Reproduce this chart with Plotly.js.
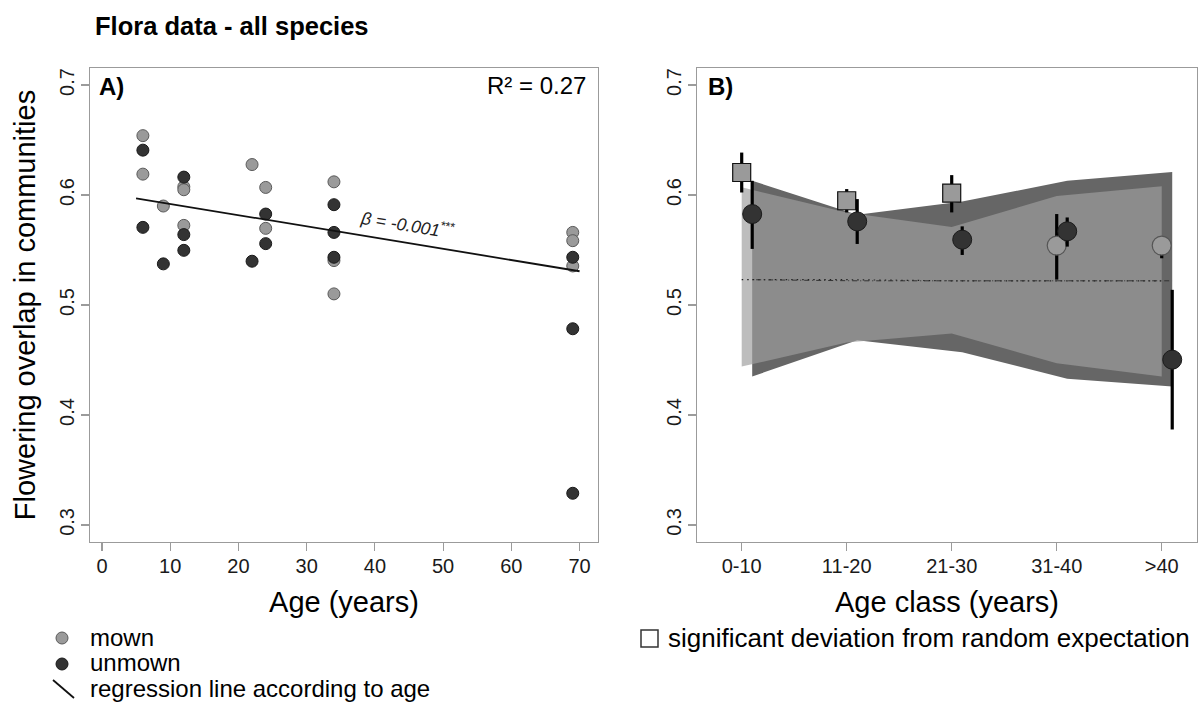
<!DOCTYPE html>
<html><head><meta charset="utf-8">
<script src="https://cdn.plot.ly/plotly-3.0.1.min.js"></script>
<style>html,body{margin:0;padding:0;background:#fff}#chart{width:1198px;height:702px}</style>
</head><body><div id="chart"></div>
<script>
// ---------- Panel A data ----------
const mownAge = [6, 6, 9, 12, 12, 12, 22, 24, 24, 34, 34, 34, 69, 69, 69];
const mownOverlap = [0.654, 0.619, 0.590, 0.6075, 0.6048, 0.5724, 0.6277, 0.6069, 0.5697, 0.612, 0.5404, 0.5101, 0.566, 0.5585, 0.5355];
const unmownAge = [6, 6, 9, 12, 12, 12, 22, 24, 24, 34, 34, 34, 69, 69, 69];
const unmownOverlap = [0.6408, 0.5706, 0.5374, 0.6163, 0.564, 0.5497, 0.5398, 0.5827, 0.5558, 0.5912, 0.566, 0.5434, 0.5434, 0.4784, 0.3288];
const regressionAge = [5, 70];
const regressionFit = [0.5970, 0.5307];

// ---------- Panel B data ----------
const ageClasses = ['0-10', '11-20', '21-30', '31-40', '>40'];
const mownNullUpper = [0.607, 0.584, 0.571, 0.599, 0.608];
const mownNullLower = [0.444, 0.466, 0.474, 0.447, 0.435];
const unmownNullUpper = [0.613, 0.582, 0.594, 0.613, 0.621];
const unmownNullLower = [0.435, 0.468, 0.457, 0.433, 0.426];
const mownExpected = [0.523, 0.523, 0.522, 0.522, 0.522];
const unmownExpected = [0.523, 0.522, 0.522, 0.522, 0.522];
const mownMean = [0.6205, 0.5948, 0.6018, 0.554, 0.554];
const mownUpper = [0.6386, 0.6054, 0.6181, 0.5827, 0.562];
const mownLower = [0.6023, 0.5842, 0.5842, 0.5231, 0.5425];
const mownSignificant = [true, true, true, false, false];
const unmownMean = [0.5827, 0.576, 0.5594, 0.567, 0.4503];
const unmownUpper = [0.6129, 0.5963, 0.5715, 0.5796, 0.5138];
const unmownLower = [0.551, 0.5555, 0.5455, 0.5531, 0.3868];
const unmownSignificant = [false, false, false, false, false];

// ---------- layout helpers ----------
const W = 1198, H = 702, ML = 90, MR = 1, MT = 68, MB = 160;
const PW = W - ML - MR, PH = H - MT - MB;
const px = x => (x - ML) / PW;
const py = y => (H - MB - y) / PH;
const FONT = 'Liberation Sans, Arial, sans-serif';
const GRAY = '#9a9a9a', DARK = '#333333';
const BOX = '#9b9b9b';

const posM = ageClasses.map((c, i) => i + 1);
const posU = ageClasses.map((c, i) => i + 1.1);
const polyX = p => p.concat(p.slice().reverse());
const polyY = (up, lo) => up.concat(lo.slice().reverse());

const traces = [
  // Panel A
  {type: 'scatter', mode: 'markers', x: mownAge, y: mownOverlap, xaxis: 'x', yaxis: 'y',
   marker: {size: 12, opacity: 1, color: GRAY, line: {color: '#5a5a5a', width: 1}}, name: 'mown'},
  {type: 'scatter', mode: 'markers', x: unmownAge, y: unmownOverlap, xaxis: 'x', yaxis: 'y',
   marker: {size: 12, opacity: 1, color: DARK, line: {color: '#1a1a1a', width: 1}}, name: 'unmown'},
  {type: 'scatter', mode: 'lines', x: regressionAge, y: regressionFit, xaxis: 'x', yaxis: 'y',
   line: {color: '#111', width: 1.8}, name: 'regression'},
  // Panel B envelopes
  {type: 'scatter', mode: 'lines', x: polyX(posU), y: polyY(unmownNullUpper, unmownNullLower),
   xaxis: 'x2', yaxis: 'y2', fill: 'toself', fillcolor: '#666666', line: {width: 0}, hoverinfo: 'skip', name: 'unmown null'},
  {type: 'scatter', mode: 'lines', x: polyX(posM), y: polyY(mownNullUpper, mownNullLower),
   xaxis: 'x2', yaxis: 'y2', fill: 'toself', fillcolor: 'rgba(158,158,158,0.68)', line: {width: 0}, hoverinfo: 'skip', name: 'mown null'},
  {type: 'scatter', mode: 'lines', x: posM, y: mownExpected, xaxis: 'x2', yaxis: 'y2',
   line: {color: '#222', width: 1.2, dash: '1.5px,4px'}, name: 'mown expected'},
  {type: 'scatter', mode: 'lines', x: posU, y: unmownExpected, xaxis: 'x2', yaxis: 'y2',
   line: {color: '#333', width: 1, dash: '1px,3px,5px,3px'}, name: 'unmown expected'},
  // Panel B points
  {type: 'scatter', mode: 'markers', x: posM, y: mownMean, xaxis: 'x2', yaxis: 'y2',
   error_y: {type: 'data', symmetric: false,
     array: mownUpper.map((u, i) => u - mownMean[i]),
     arrayminus: mownLower.map((l, i) => mownMean[i] - l),
     color: '#000', thickness: 3.2, width: 0},
   marker: {opacity: 1, size: mownSignificant.map(s => s ? 18 : 19), symbol: mownSignificant.map(s => s ? 'square' : 'circle'),
     color: GRAY, line: {color: mownSignificant.map(s => s ? '#111' : '#555'), width: 1.2}}, name: 'mown class'},
  {type: 'scatter', mode: 'markers', x: posU, y: unmownMean, xaxis: 'x2', yaxis: 'y2',
   error_y: {type: 'data', symmetric: false,
     array: unmownUpper.map((u, i) => u - unmownMean[i]),
     arrayminus: unmownLower.map((l, i) => unmownMean[i] - l),
     color: '#000', thickness: 3.2, width: 0},
   marker: {opacity: 1, size: unmownSignificant.map(s => s ? 18 : 19), symbol: unmownSignificant.map(s => s ? 'square' : 'circle'),
     color: DARK, line: {color: '#1a1a1a', width: 1}}, name: 'unmown class'}
];

const axisCommon = {
  showline: true, mirror: true, linecolor: BOX, linewidth: 1.2,
  ticks: 'outside', ticklen: 8, tickcolor: BOX, tickwidth: 1.2,
  showgrid: false, zeroline: false, fixedrange: true,
  tickfont: {family: FONT, size: 20, color: '#1a1a1a'}
};
const yCommon = Object.assign({}, axisCommon, {
  range: [0.2845, 0.7155], tick0: 0.3, dtick: 0.1, tickformat: '.1f', tickangle: -90,
  domain: [0, 1], ticklabelstandoff: -1
});

const layout = {
  width: W, height: H,
  margin: {l: ML, r: MR, t: MT, b: MB},
  paper_bgcolor: '#fff', plot_bgcolor: '#fff',
  showlegend: false,
  font: {family: FONT, color: '#111'},
  title: {text: '<b>Flora data - all species</b>', x: 95 / W, xanchor: 'left', y: 1 - 26 / H, yanchor: 'middle',
    font: {family: FONT, size: 25.5, color: '#000'}},
  xaxis: Object.assign({}, axisCommon, {domain: [0, px(598)], range: [-1.75, 72.7], tick0: 0, dtick: 10,
    ticklabelstandoff: -2,
    title: {text: 'Age (years)', font: {family: FONT, size: 29, color: '#000'}, standoff: 15}}),
  yaxis: Object.assign({}, yCommon, {anchor: 'x',
    title: {text: 'Flowering overlap in communities', font: {family: FONT, size: 29, color: '#000'}, standoff: 11}}),
  xaxis2: Object.assign({}, axisCommon, {domain: [px(697), 1], range: [0.5743, 5.336], anchor: 'y2',
    tickmode: 'array', tickvals: posM, ticktext: ageClasses, ticklabelstandoff: -2,
    title: {text: 'Age class (years)', font: {family: FONT, size: 29, color: '#000'}, standoff: 15}}),
  yaxis2: Object.assign({}, yCommon, {anchor: 'x2'}),
  annotations: [
    {xref: 'paper', yref: 'paper', x: px(97), y: py(87), xanchor: 'left', yanchor: 'middle', showarrow: false,
     text: '<b>A)</b>', font: {family: FONT, size: 24, color: '#000'}},
    {xref: 'paper', yref: 'paper', x: px(706), y: py(87), xanchor: 'left', yanchor: 'middle', showarrow: false,
     text: '<b>B)</b>', font: {family: FONT, size: 24, color: '#000'}},
    {xref: 'paper', yref: 'paper', x: px(588), y: py(86), xanchor: 'right', yanchor: 'middle', showarrow: false,
     text: 'R² = 0.27', font: {family: FONT, size: 24, color: '#000'}},
    {xref: 'x', yref: 'y', x: 44.8, y: 0.5735, xanchor: 'center', yanchor: 'middle', showarrow: false,
     textangle: 9.3, text: '<i>β = -0.001</i><sup>***</sup>', font: {family: FONT, size: 17.5, color: '#222'}},
    {xref: 'paper', yref: 'paper', x: px(88), y: py(637), xanchor: 'left', yanchor: 'middle', showarrow: false,
     text: 'mown', font: {family: FONT, size: 24, color: '#000'}},
    {xref: 'paper', yref: 'paper', x: px(88), y: py(662.5), xanchor: 'left', yanchor: 'middle', showarrow: false,
     text: 'unmown', font: {family: FONT, size: 24, color: '#000'}},
    {xref: 'paper', yref: 'paper', x: px(88), y: py(688.5), xanchor: 'left', yanchor: 'middle', showarrow: false,
     text: 'regression line according to age', font: {family: FONT, size: 24, color: '#000'}},
    {xref: 'paper', yref: 'paper', x: px(666), y: py(638), xanchor: 'left', yanchor: 'middle', showarrow: false,
     text: 'significant deviation from random expectation', font: {family: FONT, size: 26, color: '#000'}}
  ],
  shapes: [
    {type: 'circle', xref: 'paper', yref: 'paper', x0: px(56), x1: px(68), y0: py(644), y1: py(632),
     fillcolor: GRAY, line: {color: '#5a5a5a', width: 1}},
    {type: 'circle', xref: 'paper', yref: 'paper', x0: px(56), x1: px(68), y0: py(670), y1: py(658),
     fillcolor: DARK, line: {color: '#1a1a1a', width: 1}},
    {type: 'line', xref: 'paper', yref: 'paper', x0: px(53), y0: py(680), x1: px(74), y1: py(698),
     line: {color: '#111', width: 1.8}},
    {type: 'rect', xref: 'paper', yref: 'paper', x0: px(641), x1: px(658), y0: py(647), y1: py(630),
     fillcolor: '#fff', line: {color: '#333', width: 1.5}}
  ]
};

Plotly.newPlot('chart', traces, layout, {displayModeBar: false, staticPlot: true});
</script>
</body></html>
